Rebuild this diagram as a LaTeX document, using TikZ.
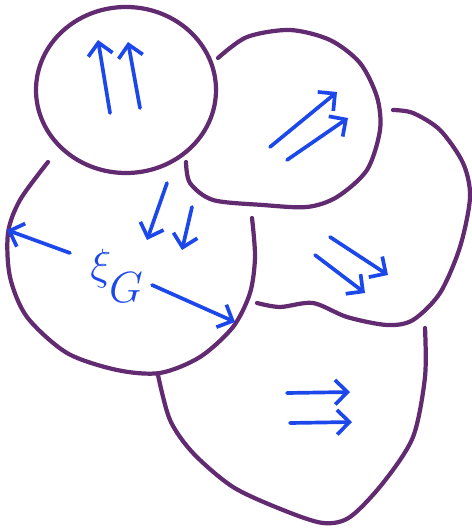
\documentclass[tikz,border=0pt]{standalone}
\usepackage{amsmath}
\usepackage{xcolor}
\usetikzlibrary{arrows.meta}
\definecolor{inkpurple}{RGB}{98,42,112}
\definecolor{inkblue}{RGB}{28,72,235}
\tikzset{rim/.style={inkpurple, line width=2.4pt, line cap=round},
  flow/.style={inkblue, line width=2.1pt, line cap=round,
    -{Straight Barb[length=7pt,width=14pt,line width=2.1pt]}}}
\begin{document}
\begin{tikzpicture}[x=0.02cm,y=-0.02cm]
    \useasboundingbox (0,0) rectangle (472,530);
    \draw[rim] (126,90) ellipse (90 and 83);
    \draw[rim] plot[smooth] coordinates {(186,162) (190,183) (213,200)
    (263,205) (307,207) (337,197) (367,170) (380,130) (377,97) (360,63)
    (330,40) (290,30) (247,37) (218,58)};
    \draw[rim] plot[smooth] coordinates {(48,162) (20,200) (8,233)
    (10,277) (27,317) (67,353) (117,370) (160,373) (200,357) (233,327)
    (250,293) (255,257) (252,218)};
    \draw[rim] plot[smooth] coordinates {(257,303) (280,307) (313,303)
    (347,317) (387,325) (413,320) (440,293) (460,247) (470,197)
    (463,163) (440,130) (413,113) (393,110)};
    \draw[rim] plot[smooth] coordinates {(158,375) (170,420) (193,453)
    (233,487) (283,510) (323,523) (350,517) (383,483) (413,437)
    (425,377) (425,328)};
    \draw[flow] (110,113) -- (98,40); \draw[flow] (140,108) -- (128,42);
    \draw[flow] (270,147) -- (337,92); \draw[flow] (287,160) -- (348,118);
    \draw[flow] (330,237) -- (388,275); \draw[flow] (315,255) -- (365,293);
    \draw[flow] (287,393) -- (350,392); \draw[flow] (290,423) -- (352,422);
    \draw[flow] (70,253) -- (7,230); \draw[flow] (167,183) -- (147,240);
    \draw[flow] (192,207) -- (182,250); \draw[flow] (152,285) -- (235,322);
    \node[inkblue, font=\fontsize{36}{38}\selectfont] (xi) at (117,276)
    {$\xi_{\lower9pt\hbox{$\scriptstyle G$}}$};
  \end{tikzpicture}
\end{document}
